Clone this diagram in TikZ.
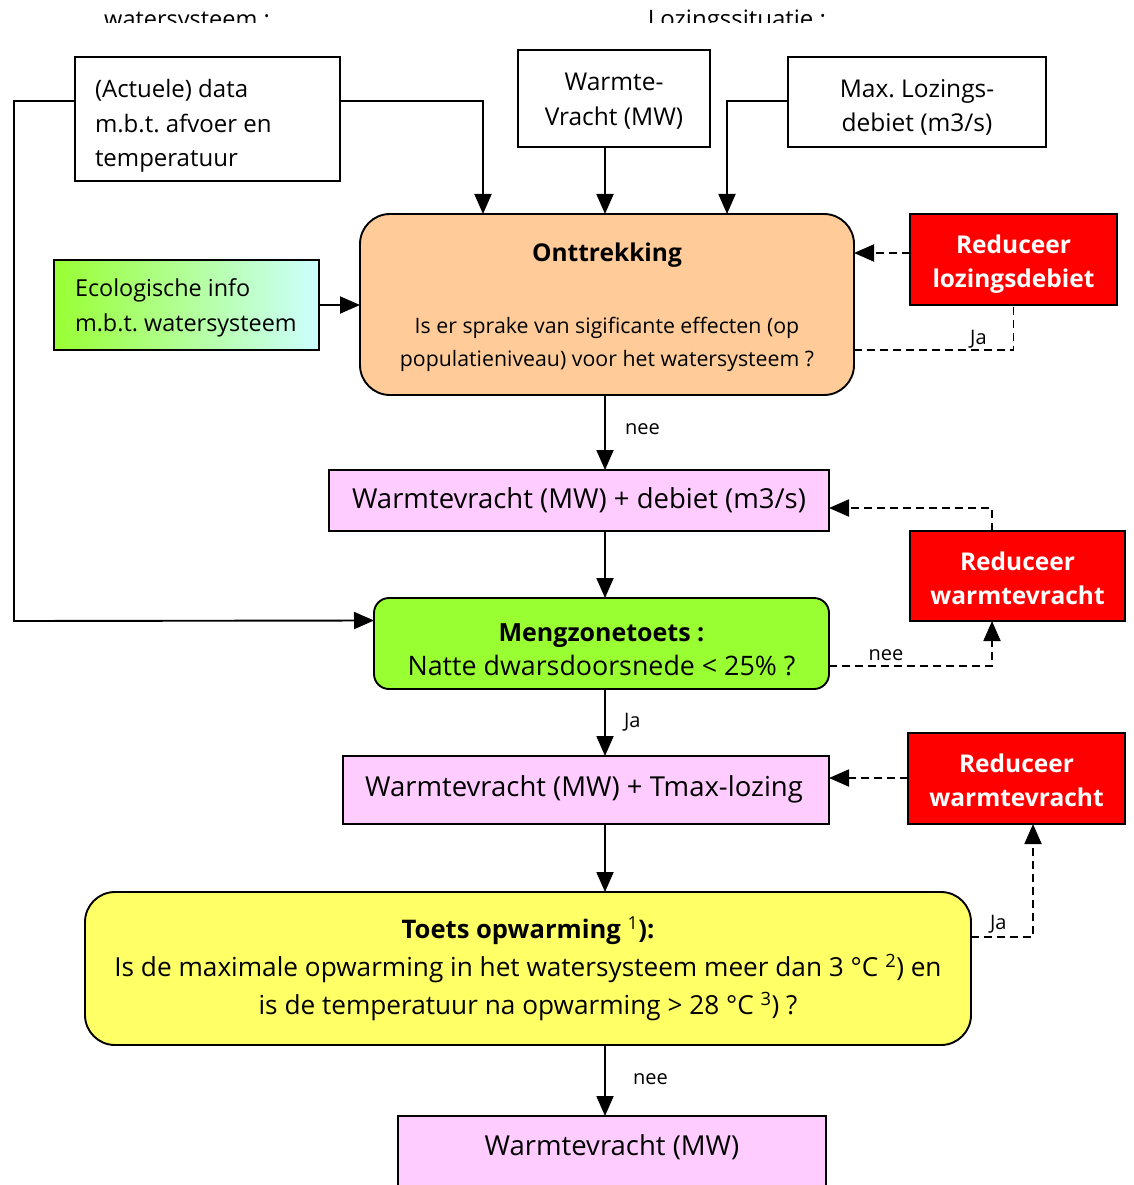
\documentclass[tikz,border=0pt]{standalone}
\usepackage{fontspec}
\setmainfont{Open Sans}
\usetikzlibrary{arrows.meta,calc}

\definecolor{peach}{RGB}{255,204,153}
\definecolor{pinkfill}{RGB}{255,204,255}
\definecolor{limefill}{RGB}{153,255,51}
\definecolor{cyanfill}{RGB}{204,255,255}
\definecolor{yellowfill}{RGB}{255,255,102}
\definecolor{redfill}{RGB}{255,0,0}

% font sizes used in the chart
\newcommand\fsz[2]{\fontsize{#1}{#2}\selectfont}

\begin{document}
\frenchspacing
\begin{tikzpicture}[x=1pt,y=-1pt,
  every node/.style={inner sep=0pt,outer sep=0pt},
  boxed/.style={draw,line width=1.9pt},
  redbox/.style={boxed,fill=redfill},
  redtext/.style={text=white,font=\fsz{24.5}{34}\bfseries,align=center},
  pinkbox/.style={boxed,fill=pinkfill},
  arr/.style={line width=1.9pt,-{Triangle[length=20pt,width=17pt]}},
  dsh/.style={line width=1.9pt,dash pattern=on 8pt off 5pt},
  darr/.style={dsh,-{Triangle[length=20pt,width=17pt]}},
  lbl/.style={font=\fsz{20}{24}}]

\useasboundingbox (0,0) rectangle (1133,1185);
\clip (0,0) rectangle (1133,1185);

% column headings, cut off by the top band
\begin{scope}
  \clip (0,0) rectangle (1133,23);
  \node[font=\fsz{23.5}{30},anchor=base] (headW) at (187,28) {watersysteem :};
  \node[font=\fsz{24}{30},anchor=base] (headL) at (737,28) {Lozingssituatie :};
\end{scope}

% input boxes
\node[boxed,minimum width=265,minimum height=124] (data) at (207.5,119) {};
\node[font=\fsz{24}{34.5},align=left,anchor=west] (dataT) at (95,126)
  {(Actuele) data\\m.b.t. afvoer en\\temperatuur};
\node[boxed,minimum width=192,minimum height=97] (wv) at (614,98.5) {};
\node[font=\fsz{24.5}{35},align=center] (wvT) at (614,101) {Warmte-\\Vracht (MW)};
\node[boxed,minimum width=258,minimum height=90] (mld) at (917,102) {};
\node[font=\fsz{24.5}{34},align=center] (mldT) at (917,107) {Max. Lozings-\\debiet (m3/s)};

% onttrekking
\node[boxed,fill=peach,rounded corners=30,minimum width=494,minimum height=181] (ont) at (607,304.5) {};
\node[font=\fsz{24.5}{30}\bfseries] (ontT) at (607,255) {Onttrekking};
\node[font=\fsz{21.3}{33},align=center] (ontQ) at (607,344.5)
  {Is er sprake van sigificante effecten (op\\populatieniveau) voor het watersysteem ?};

\node[boxed,left color=limefill,right color=cyanfill,minimum width=265,minimum height=90] (eco) at (186.5,305) {};
\node[font=\fsz{23.4}{35},align=left,anchor=west] (ecoT) at (75,308) {Ecologische info\\m.b.t. watersysteem};

\node[redbox,minimum width=207,minimum height=91] (red1) at (1013.5,259.5) {};
\node[redtext] (red1T) at (1013.5,264.5) {Reduceer\\lozingsdebiet};

% debiet
\node[pinkbox,minimum width=500,minimum height=61] (wd) at (579,500.5) {};
\node[font=\fsz{27.5}{34}] (wdT) at (579,500.5) {Warmtevracht (MW) + debiet (m3/s)};
\node[redbox,minimum width=215,minimum height=90] (red2) at (1017.5,576) {};
\node[redtext] (red2T) at (1017.5,578) {Reduceer\\warmtevracht};

% mengzone
\node[boxed,fill=limefill,rounded corners=15,minimum width=455,minimum height=91] (meng) at (601.5,643.5) {};
\node[font=\fsz{26.8}{34},align=center] (mengT) at (601.5,649.5)
  {{\fontsize{25}{34}\selectfont\bfseries Mengzonetoets :}\\Natte dwarsdoorsnede < 25\% ?};

% Tmax
\node[pinkbox,minimum width=486,minimum height=68] (wt) at (586,790) {};
\node[font=\fsz{27.5}{34}] (wtT) at (584,789) {Warmtevracht (MW) + Tmax-lozing};
\node[redbox,minimum width=217,minimum height=91] (red3) at (1016.5,778.5) {};
\node[redtext] (red3T) at (1016.5,780.5) {Reduceer\\warmtevracht};

% toets opwarming
\node[boxed,fill=yellowfill,rounded corners=30,minimum width=886,minimum height=153] (toets) at (528,968.5) {};
\node[font=\fsz{26.2}{38},align=center] (toetsT) at (528,969)
  {{\fontsize{25.6}{38}\selectfont\bfseries Toets opwarming {\mdseries\textsuperscript{1}}):}\\
   Is de maximale opwarming in het watersysteem meer dan 3 °C \textsuperscript{2}) en\\
   is de temperatuur na opwarming > 28 °C \textsuperscript{3}) ?};

% result
\node[pinkbox,minimum width=428,minimum height=100] (wr) at (612,1166) {};
\node[font=\fsz{27.5}{34}] (wrT) at (612,1147) {Warmtevracht (MW)};

% connectors
\coordinate (spine) at (605,0);
\coordinate (rail) at (14,0);

\draw[arr] ($(data.east)+(0,-18)$) -| ([xshift=-124pt]ont.north);
\draw[arr] (wv.south -| spine) -- (ont.north -| spine);
\draw[arr] ($(mld.west)+(0,-1)$) -| ([xshift=120pt]ont.north);
\draw[arr] ($(data.west)+(0,-18)$) -| (rail |- 0,621) -- ($(meng.west)+(0,-23)$);
\draw[arr] (eco.east) -- (eco.east -| ont.west);

\draw[darr] ($(red1.west)+(0,-6.5)$) coordinate (r1a) -- (r1a -| ont.east);
\draw[dsh] ($(ont.east)+(0,45.5)$) -| (red1.south)
  node[lbl,pos=0.39,anchor=south,yshift=2pt] (jaA) {Ja};

\draw[arr] (ont.south -| spine) -- (wd.north -| spine)
  node[lbl,midway,anchor=west,xshift=20pt,yshift=3pt] (neeA) {nee};
\draw[arr] (wd.south -| spine) -- (meng.north -| spine);

\draw[darr] ($(meng.east)+(0,22.5)$) -| ($(red2.south)+(-25.5,0)$)
  node[lbl,pos=0.175,anchor=south,yshift=5pt] (neeB) {nee};
\draw[darr] ($(red2.north)+(-25.5,0)$) |- ($(wd.east)+(0,7.5)$);

\draw[arr] (meng.south -| spine) -- (wt.north -| spine)
  node[lbl,midway,anchor=west,xshift=19pt] (jaB) {Ja};
\draw[arr] (wt.south -| spine) -- (toets.north -| spine);
\draw[darr] ($(red3.west)+(0,-0.5)$) coordinate (r3a) -- (r3a -| wt.east);

\draw[darr] ($(toets.east)+(0,-31.5)$) -| ($(red3.south)+(16.5,0)$)
  node[lbl,pos=0.22,anchor=south,yshift=4pt] (jaC) {Ja};

\draw[arr] (toets.south -| spine) -- (wr.north -| spine)
  node[lbl,midway,anchor=west,xshift=28pt,yshift=1pt] (neeC) {nee};

\end{tikzpicture}
\end{document}
